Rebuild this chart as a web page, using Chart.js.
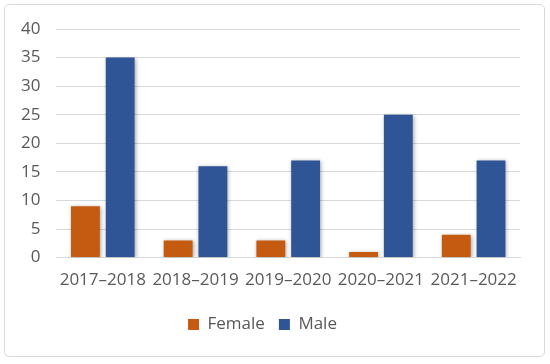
<!DOCTYPE html>
<html lang="en">
<head>
    <meta charset="UTF-8">
    <title>Female / Male by year</title>
    <script src="https://cdn.jsdelivr.net/npm/chart.js"></script>
    <style>
        body { margin: 0; background: #fff; }
        #frame { position: absolute; left: 4px; top: 4px; width: 539px; height: 351px; border: 1.5px solid #d9d9d9; border-radius: 5px; }
        #chart { position: absolute; left: 0; top: 0; }
    </style>
</head>
<body>
    <div id="frame"></div>
    <canvas id="chart" width="550" height="364"></canvas>
    <script>
        const years = ['2017–2018', '2018–2019', '2019–2020', '2020–2021', '2021–2022'];
        const female = [9, 3, 3, 1, 4];
        const male = [35, 16, 17, 25, 17];
        const yTicks = [0, 5, 10, 15, 20, 25, 30, 35, 40];

        // soft drop shadow under the bars, like the office chart
        const barShadow = {
            id: 'barShadow',
            beforeDatasetsDraw(chart) {
                const c = chart.ctx;
                c.save();
                c.shadowColor = 'rgba(0,0,0,0.35)';
                c.shadowBlur = 4;
                c.shadowOffsetX = 1;
                c.shadowOffsetY = 1;
            },
            afterDatasetsDraw(chart) {
                chart.ctx.restore();
            }
        };

        const font = { family: '"Open Sans", "Liberation Sans", sans-serif', size: 17 };

        new Chart(document.getElementById('chart'), {
            type: 'bar',
            data: {
                labels: years,
                datasets: [
                    { label: 'Female', data: female, backgroundColor: '#C55A11', categoryPercentage: 0.75, barPercentage: 0.83 },
                    { label: 'Male', data: male, backgroundColor: '#2F5597', categoryPercentage: 0.75, barPercentage: 0.83 }
                ]
            },
            options: {
                responsive: false,
                animation: false,
                layout: { padding: { left: 5, right: 30, top: 29, bottom: 21 } },
                plugins: {
                    tooltip: { enabled: false },
                    legend: {
                        position: 'bottom',
                        labels: { boxWidth: 11, boxHeight: 11, padding: 14, color: '#595959', font: font }
                    }
                },
                scales: {
                    x: {
                        grid: { display: false, drawTicks: false },
                        border: { color: '#d9d9d9', width: 1 },
                        ticks: { color: '#595959', font: font, padding: 12, maxRotation: 0 }
                    },
                    y: {
                        min: 0,
                        max: 40,
                        afterBuildTicks(axis) { axis.ticks = yTicks.map(v => ({ value: v })); },
                        grid: { color: '#d9d9d9', drawTicks: false },
                        border: { display: false },
                        ticks: { color: '#595959', font: font, padding: 16 }
                    }
                }
            },
            plugins: [barShadow]
        });
    </script>
</body>
</html>
